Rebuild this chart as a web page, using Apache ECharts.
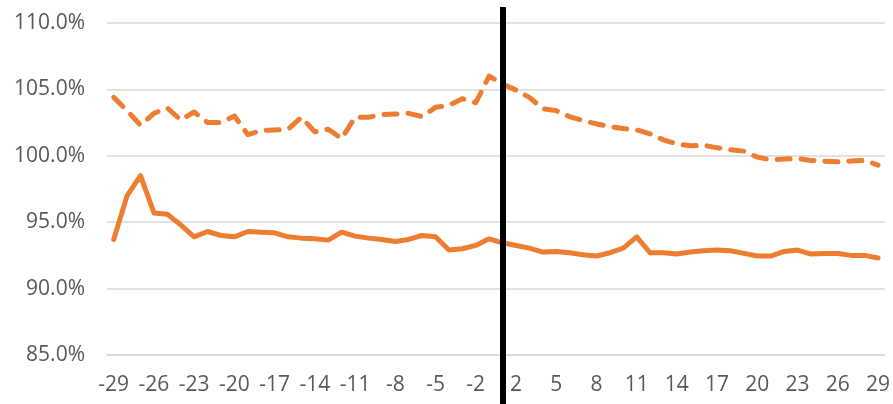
<!DOCTYPE html>
<html>
<head>
<meta charset="utf-8">
<script src="https://cdn.jsdelivr.net/npm/echarts@6/dist/echarts.min.js"></script>
<style>
    html, body { margin: 0; padding: 0; background: #fff; }
    #main { width: 893px; height: 404px; }
</style>
</head>
<body>
<div id="main"></div>
<script>
    // x categories: days -29..-1 and 1..29 (no day 0)
    const days = [
        -29, -28, -27, -26, -25, -24, -23, -22, -21, -20, -19, -18, -17, -16, -15,
        -14, -13, -12, -11, -10, -9, -8, -7, -6, -5, -4, -3, -2, -1,
        1, 2, 3, 4, 5, 6, 7, 8, 9, 10, 11, 12, 13, 14, 15,
        16, 17, 18, 19, 20, 21, 22, 23, 24, 25, 26, 27, 28, 29
    ].map(String);

    // dashed upper series (%)
    const upperSeries = [
        104.4, 103.4, 102.3, 103.2, 103.6, 102.7, 103.3, 102.5, 102.5, 103.0,
        101.6, 101.9, 101.95, 102.0, 102.9, 101.8, 102.0, 101.3, 102.9, 102.9,
        103.1, 103.15, 103.2, 102.95, 103.65, 103.8, 104.3, 104.0, 106.0,
        105.4, 104.95, 104.4, 103.55, 103.4, 102.95, 102.65, 102.4, 102.2, 102.05,
        101.95, 101.65, 101.2, 100.9, 100.75, 100.8, 100.6, 100.45, 100.35, 99.9,
        99.7, 99.75, 99.8, 99.65, 99.6, 99.55, 99.6, 99.65, 99.3
    ];

    // solid lower series (%)
    const lowerSeries = [
        93.7, 97.0, 98.5, 95.7, 95.6, 94.8, 93.9, 94.3, 94.0, 93.9,
        94.3, 94.25, 94.2, 93.9, 93.8, 93.75, 93.65, 94.25, 93.95, 93.8,
        93.7, 93.55, 93.7, 94.0, 93.9, 92.9, 93.0, 93.25, 93.75,
        93.45, 93.25, 93.05, 92.75, 92.8, 92.7, 92.55, 92.45, 92.7, 93.05,
        93.9, 92.7, 92.7, 92.6, 92.75, 92.85, 92.9, 92.85, 92.65, 92.45,
        92.45, 92.8, 92.9, 92.6, 92.65, 92.65, 92.5, 92.5, 92.3
    ];

    // position of the vertical black marker
    const markerDay = '1';

    const orange = '#ED7D31';
    const labelFont = { color: '#595959', fontSize: 21, fontFamily: 'Open Sans' };

    const chart = echarts.init(document.getElementById('main'));

    const option = {
        animation: false,
        grid: [
            { left: 107, right: 7, top: 23, bottom: 49 },
            { left: 107, right: 7, top: 7, bottom: 0 }
        ],
        xAxis: [
            {
                type: 'category',
                gridIndex: 0,
                data: days,
                boundaryGap: true,
                axisLine: { lineStyle: { color: '#D9D9D9', width: 1.5 } },
                axisTick: { interval: 0, length: 7, lineStyle: { color: '#D9D9D9', width: 1.5 } },
                axisLabel: Object.assign({ interval: 2, margin: 20 }, labelFont)
            },
            {
                type: 'category',
                gridIndex: 1,
                data: days,
                boundaryGap: true,
                show: false
            }
        ],
        yAxis: [
            {
                type: 'value',
                gridIndex: 0,
                min: 85,
                max: 110,
                interval: 5,
                axisLine: { show: false },
                axisTick: { show: false },
                splitLine: { lineStyle: { color: '#D9D9D9', width: 1.5 } },
                axisLabel: Object.assign({
                    margin: 22,
                    formatter: v => v.toFixed(1) + '%'
                }, labelFont)
            },
            {
                type: 'value',
                gridIndex: 1,
                min: 0,
                max: 1,
                show: false
            }
        ],
        series: [
            {
                name: 'upper',
                type: 'line',
                data: upperSeries,
                symbol: 'none',
                lineStyle: { color: orange, width: 5, type: [13, 11], cap: 'round', join: 'round' }
            },
            {
                name: 'lower',
                type: 'line',
                data: lowerSeries,
                symbol: 'none',
                lineStyle: { color: orange, width: 5, cap: 'round', join: 'round' }
            },
            {
                name: 'marker',
                type: 'line',
                xAxisIndex: 1,
                yAxisIndex: 1,
                data: [],
                z: 10,
                markLine: {
                    silent: true,
                    symbol: 'none',
                    label: { show: false },
                    lineStyle: { color: '#000', width: 6, type: 'solid' },
                    data: [{ xAxis: markerDay }]
                }
            }
        ]
    };

    chart.setOption(option);
</script>
</body>
</html>
